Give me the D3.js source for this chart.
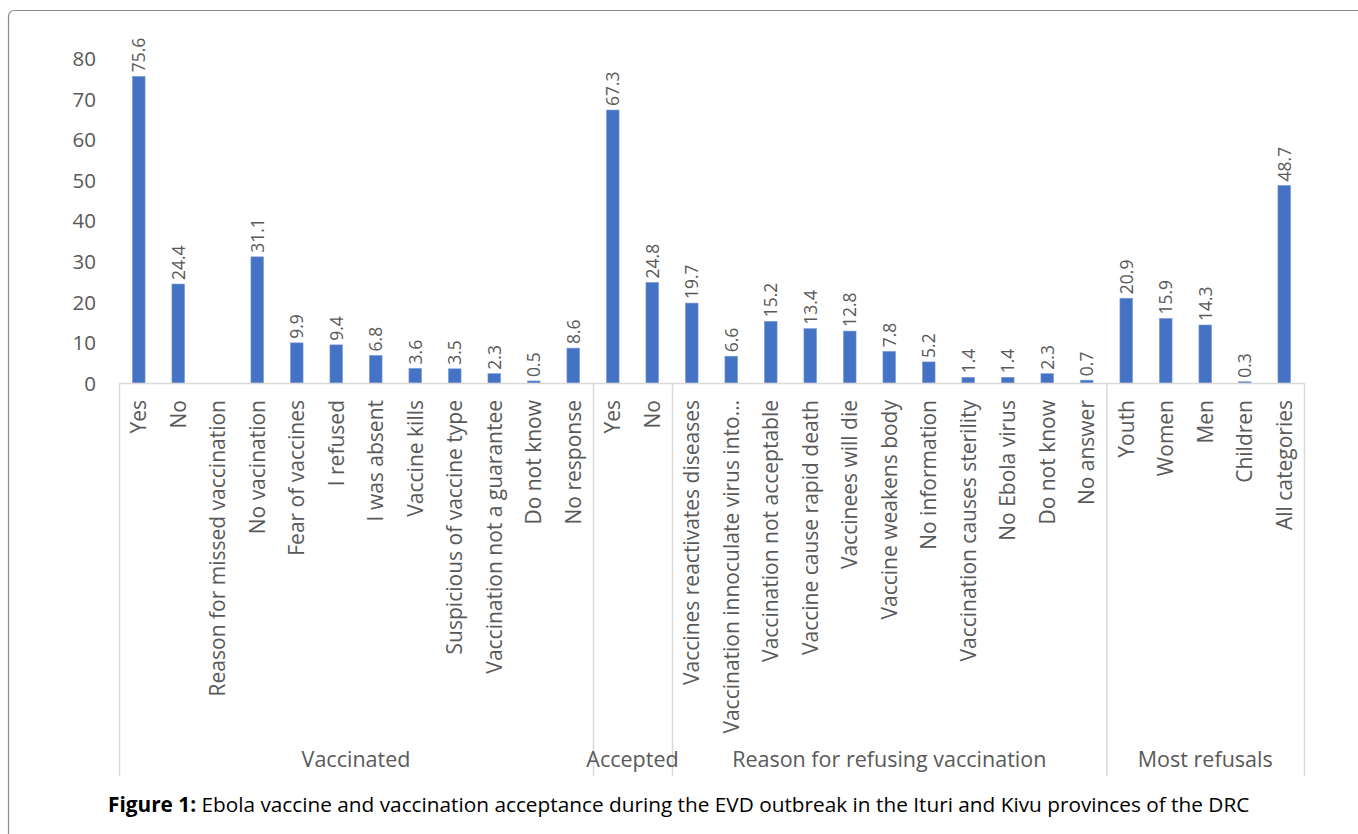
<!DOCTYPE html>
<html><head><meta charset="utf-8">
<script src="https://cdn.jsdelivr.net/npm/d3@7"></script>
<style>body{margin:0;background:#fff;} svg{display:block;}</style>
</head><body>
<svg id="chart" width="1358" height="834"></svg>
<script>
// ---- data ----
const categories = [
  "Yes","No","Reason for missed vaccination","No vacination","Fear of vaccines","I refused",
  "I was absent","Vaccine kills","Suspicious of vaccine type","Vaccination not a guarantee",
  "Do not know","No response",
  "Yes","No",
  "Vaccines reactivates diseases","Vaccination innoculate virus into…","Vaccination not acceptable",
  "Vaccine cause rapid death","Vaccinees will die","Vaccine weakens body","No information",
  "Vaccination causes sterility","No Ebola virus","Do not know","No answer",
  "Youth","Women","Men","Children","All categories"
];
const groupNames = ["Vaccinated","Accepted","Reason for refusing vaccination","Most refusals"];
const groupSizes = [12, 2, 11, 5];
const values = [
  75.6, 24.4, null, 31.1, 9.9, 9.4, 6.8, 3.6, 3.5, 2.3, 0.5, 8.6,
  67.3, 24.8,
  19.7, 6.6, 15.2, 13.4, 12.8, 7.8, 5.2, 1.4, 1.4, 2.3, 0.7,
  20.9, 15.9, 14.3, 0.3, 48.7
];
const yTicks = [0, 10, 20, 30, 40, 50, 60, 70, 80];

// ---- layout ----
const svg = d3.select("#chart");
const plotLeft = 119, plotRight = 1304, plotBase = 383, plotTop = 58.5;
const FONT = "'Open Sans', 'Noto Sans', sans-serif";
const grey = "#595959";

const x = d3.scaleBand().domain(d3.range(categories.length)).range([plotLeft, plotRight]).padding(0);
const y = d3.scaleLinear().domain([0, 80]).range([plotBase, plotTop]);
const barW = x.bandwidth() * 0.32;

// frame
svg.append("path")
  .attr("d", `M8.5,834 L8.5,17 Q8.5,10.5 15,10.5 L1358,10.5`)
  .attr("fill", "none").attr("stroke", "#8a8a8a").attr("stroke-width", 1.2);

// y axis labels
const yAxis = d3.axisLeft(y).tickValues(yTicks).tickSize(0).tickPadding(0);
const yg = svg.append("g").attr("transform", `translate(96,0)`).call(yAxis);
yg.select(".domain").remove();
yg.selectAll("text").attr("font-family", FONT).attr("font-size", 20.5).attr("fill", grey).attr("dy", "0.35em");

const data = values.map((v, i) => ({v, i})).filter(d => d.v !== null);

// bars
svg.append("g").selectAll("rect")
  .data(data)
  .join("rect")
  .attr("x", d => x(d.i) + x.bandwidth() / 2 - barW / 2)
  .attr("width", barW)
  .attr("y", d => y(d.v))
  .attr("height", d => Math.max(0.8, plotBase - y(d.v)))
  .attr("fill", "#4472C4")
  .attr("stroke", "#7f9bd6").attr("stroke-width", 0.6);

// value labels
svg.append("g").selectAll("text")
  .data(data)
  .join("text")
  .attr("transform", d => `translate(${x(d.i) + x.bandwidth() / 2 + 6.5},${y(d.v) - 4}) rotate(-90)`)
  .attr("font-family", FONT).attr("font-size", 17.5).attr("fill", grey)
  .text(d => d.v.toFixed(1));

// x axis baseline
svg.append("line").attr("x1", plotLeft).attr("x2", plotRight).attr("y1", plotBase + 0.5).attr("y2", plotBase + 0.5)
  .attr("stroke", "#d9d9d9").attr("stroke-width", 1.5);

// group boundaries
const bounds = [0];
groupSizes.forEach(s => bounds.push(bounds[bounds.length - 1] + s));
const bx = b => (b < categories.length ? x(b) : plotRight);
svg.append("g").selectAll("line")
  .data(bounds)
  .join("line")
  .attr("x1", b => bx(b) + 0.5)
  .attr("x2", b => bx(b) + 0.5)
  .attr("y1", plotBase).attr("y2", 776)
  .attr("stroke", "#d9d9d9").attr("stroke-width", 1.5);

// category labels
svg.append("g").selectAll("text")
  .data(categories)
  .join("text")
  .attr("transform", (d, i) => `translate(${x(i) + x.bandwidth() / 2 + 7.5},400) rotate(-90)`)
  .attr("text-anchor", "end")
  .attr("font-family", FONT).attr("font-size", 21).attr("fill", grey)
  .text(d => d);

// group labels
svg.append("g").selectAll("text")
  .data(groupNames)
  .join("text")
  .attr("x", (d, i) => (bx(bounds[i]) + bx(bounds[i + 1])) / 2)
  .attr("y", 767)
  .attr("text-anchor", "middle")
  .attr("font-family", FONT).attr("font-size", 21.5).attr("fill", grey)
  .text(d => d);

// caption
const cap = svg.append("text").attr("x", 108).attr("y", 812)
  .attr("font-family", FONT).attr("font-size", 18).attr("fill", "#000");
cap.append("tspan").attr("font-weight", "bold").text("Figure 1:");
cap.append("tspan").text(" Ebola vaccine and vaccination acceptance during the EVD outbreak in the Ituri and Kivu provinces of the DRC");
const w = cap.node().getComputedTextLength();
cap.attr("font-size", 18 * 1142 / w);
</script>
</body></html>
